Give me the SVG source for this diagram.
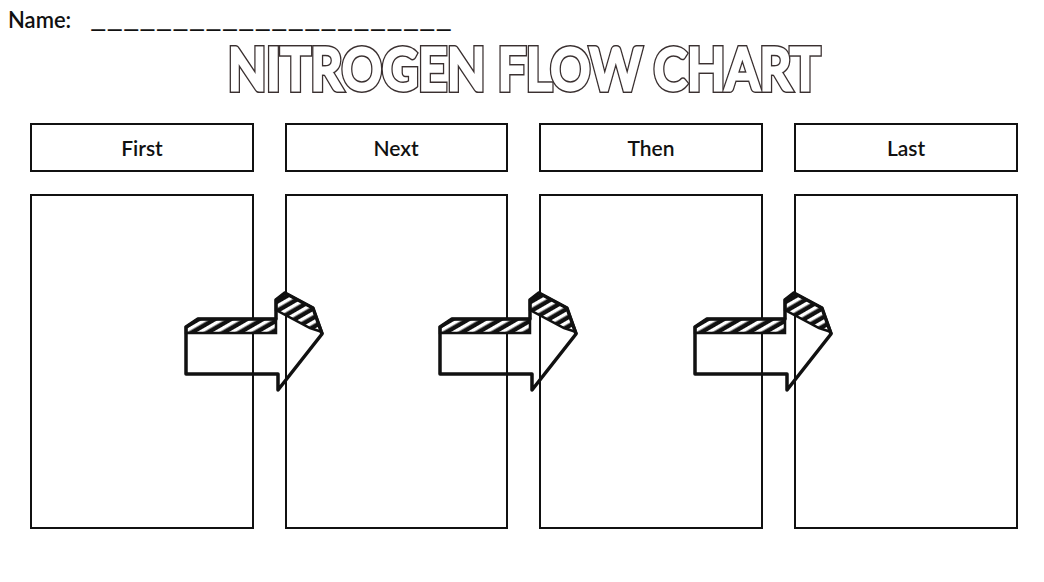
<svg xmlns="http://www.w3.org/2000/svg" width="1044" height="582" viewBox="0 0 1044 582">
<defs>
<style>
.box{fill:none;stroke:#111;stroke-width:2}
.lbl{font-family:"Lato","Noto Sans",sans-serif;font-size:21px;font-weight:600;fill:#111;text-anchor:middle}
.arw{fill:none;stroke:#111;stroke-width:3.5;stroke-linejoin:round}
.title{font-family:"Lato","DejaVu Sans",sans-serif;font-weight:600;font-size:58px}
</style>
<pattern id="h" width="8" height="8" patternUnits="userSpaceOnUse" patternTransform="rotate(-30)">
<rect width="8" height="8" fill="#111"/>
<rect x="0" y="2" width="8" height="3.5" fill="#fff"/>
</pattern>
<g id="arrow">
<path d="M186 327 L198 319 L276 319 L276 333 L186 333 Z" fill="url(#h)" stroke="#111" stroke-width="2.5"/>
<path d="M276 300 L285 293 L313 308 L322 332 L310 328 L276 310 Z" fill="url(#h)" stroke="#111" stroke-width="2.5"/>
<path class="arw" d="M186 327 L186 374 L278 374 L278 390 L322 334 L313 308 L285 293 L276 300 L276 319 L198 319 Z"/>
</g>
</defs>
<rect width="1044" height="582" fill="#fff"/>
<text x="8" y="28" font-family="Lato,'Noto Sans',sans-serif" font-size="22" font-weight="600" fill="#111">Name: <tspan x="90" textLength="362" lengthAdjust="spacingAndGlyphs">______________________</tspan></text>
<g id="title">
<text class="title" x="524" y="90" text-anchor="middle" textLength="592" lengthAdjust="spacingAndGlyphs" fill="none" stroke="#3a3030" stroke-width="6">NITROGEN FLOW CHART</text>
<text class="title" x="524" y="90" text-anchor="middle" textLength="592" lengthAdjust="spacingAndGlyphs" fill="#fff" stroke="#fff" stroke-width="3">NITROGEN FLOW CHART</text>
</g>
<g id="node-first"><rect class="box" x="31" y="124" width="222" height="47"/><text class="lbl" x="142" y="156">First</text><rect class="box" x="31" y="195" width="222" height="333"/></g>
<g id="node-next"><rect class="box" x="286" y="124" width="221" height="47"/><text class="lbl" x="396" y="156">Next</text><rect class="box" x="286" y="195" width="221" height="333"/></g>
<g id="node-then"><rect class="box" x="540" y="124" width="222" height="47"/><text class="lbl" x="651" y="156">Then</text><rect class="box" x="540" y="195" width="222" height="333"/></g>
<g id="node-last"><rect class="box" x="795" y="124" width="222" height="47"/><text class="lbl" x="906" y="156">Last</text><rect class="box" x="795" y="195" width="222" height="333"/></g>
<g id="connectors">
<use href="#arrow"/>
<use href="#arrow" x="254"/>
<use href="#arrow" x="509"/>
</g>
</svg>
